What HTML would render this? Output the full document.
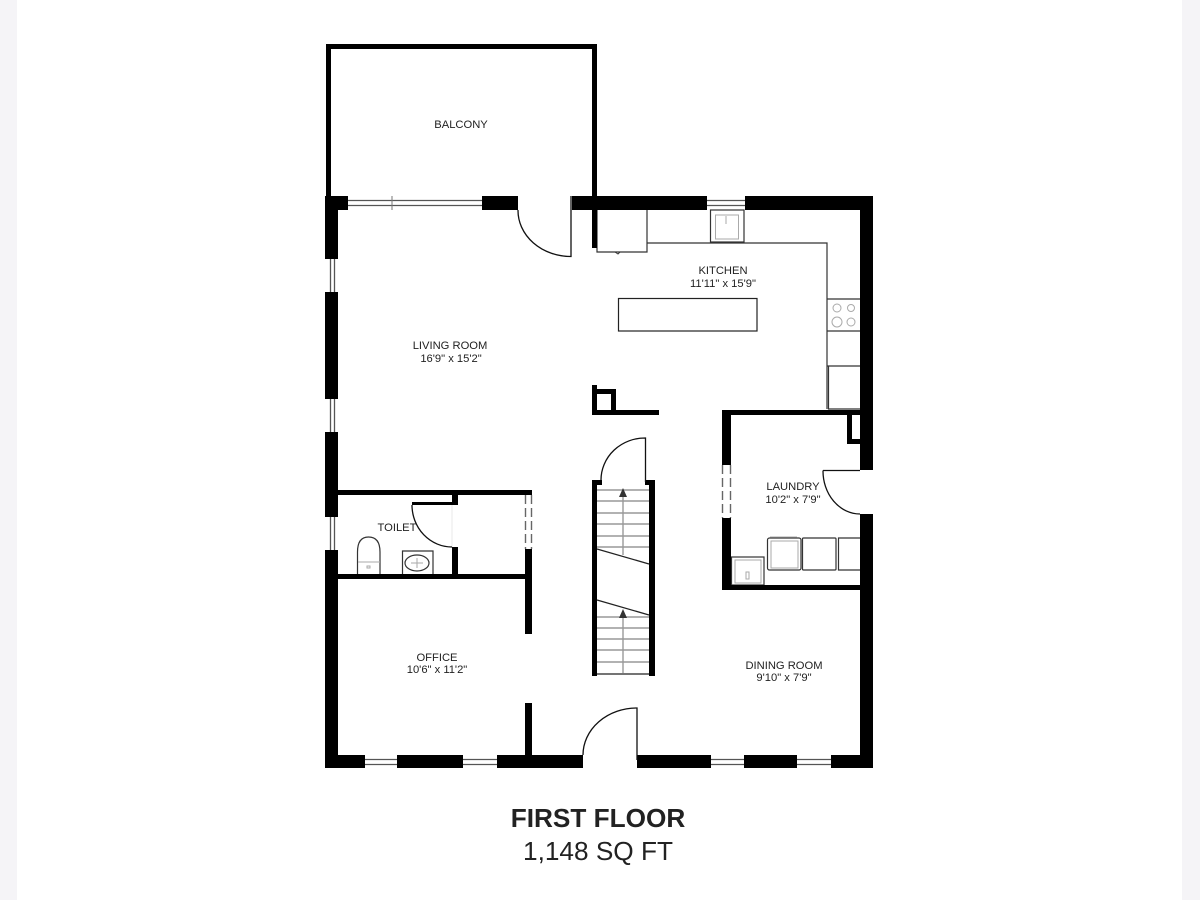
<!DOCTYPE html>
<html>
<head>
<meta charset="utf-8">
<style>
html,body{margin:0;padding:0;background:#fff;}
svg{display:block;}
text{font-family:"Liberation Sans",sans-serif;fill:#222;text-anchor:middle;}
.l{font-size:11.2px;}
.d{font-size:11.2px;}
</style>
</head>
<body>
<svg width="1200" height="900" viewBox="0 0 1200 900" xmlns="http://www.w3.org/2000/svg">
<rect width="1200" height="900" fill="#fff"/>
<rect x="0" y="0" width="17" height="900" fill="#f5f4f7"/>
<rect x="1182" y="0" width="18" height="900" fill="#f5f4f7"/>

<!-- thin fixtures -->
<g fill="none" stroke="#333" stroke-width="1.2">
  <path d="M597 210V252H647V210"/>
  <path d="M647 243H827V409"/>
  <rect x="710.500" y="210" width="33.500" height="32"/>
  <rect x="618.500" y="298.500" width="138.500" height="32.500" stroke="#222"/>
  <path d="M827 299H860M827 331H860M827 366H860"/>
  <path d="M828.500 366V409H860"/>
  <rect x="731.500" y="557" width="32.500" height="28"/>
  <rect x="767.500" y="538" width="33.500" height="32" rx="2"/>
  <rect x="802.500" y="538" width="33.500" height="32" rx="1"/>
  <path d="M860 538H838.500V570H860"/>
  <path d="M357.500 574V552Q357.500 537 368.500 537Q380 537 380 552V574"/>
  <path d="M402.500 574V551H433V574"/>
  <ellipse cx="417" cy="563" rx="12" ry="8"/>
  <path d="M615 252L618 254L620 252" stroke-width="1"/>
</g>
<g fill="none" stroke="#aaa" stroke-width="1">
  <rect x="715.500" y="215" width="23" height="24"/>
  <rect x="771" y="541" width="27" height="27"/>
  <rect x="735" y="560" width="26" height="23"/>
  <path d="M358 562H380M411 563H423"/>
  <circle cx="837" cy="308" r="4"/>
  <circle cx="851" cy="308" r="3.500"/>
  <circle cx="837" cy="322" r="5"/>
  <circle cx="851" cy="322" r="4"/>
  <path d="M726 216V224M417 558V568"/>
  <path d="M452 505V547" stroke="#e8e8e8"/>
  <path d="M770 537H797"/>
  <rect x="367" y="566" width="3" height="2"/>
  <rect x="746" y="572" width="3" height="7"/>
</g>

<!-- Stairs treads -->
<g stroke="#999" stroke-width="1.400" fill="none">
  <path d="M597 490H649M597 501H649M597 513H649M597 524H649M597 536H649M597 547H649"/>
  <path d="M597 617H649M597 628H649M597 639H649M597 650H649M597 662H649"/>
  <path d="M623 492V555M623 612V673"/>
</g>
<path d="M597 674H649M597 549L649 564M597 600L649 615" stroke="#222" stroke-width="1.300" fill="none"/>
<path d="M623 488L627 497H619ZM623 609L627 618H619Z" fill="#333"/>

<!-- windows -->
<g stroke="#555" stroke-width="1.300" fill="none">
  <path d="M348 200.500H482M348 205.500H482M707 200.500H745M707 205.500H745"/>
  <path d="M330.500 259V292M334.500 259V292M330.500 399V432M334.500 399V432M330.500 517V550M334.500 517V550"/>
  <path d="M365 759.500H397M365 764.500H397M463 759.500H497M463 764.500H497M711 759.500H744M711 764.500H744M797 759.500H831M797 764.500H831"/>
  <path d="M392 196V210" stroke="#777" stroke-width="1"/>
</g>

<!-- dashed windows -->
<g stroke="#666" stroke-width="1.400" fill="none">
  <path d="M525.500 495V549M531.500 495V549" stroke-dasharray="9 4"/>
  <path d="M722.500 465V518M730.500 465V518" stroke-dasharray="9 4"/>
</g>

<!-- walls -->
<g fill="#000">
  <!-- balcony -->
  <rect x="326" y="44" width="271" height="5"/>
  <rect x="326" y="44" width="5" height="153"/>
  <rect x="592" y="44" width="5" height="204"/>
  <!-- top -->
  <rect x="325" y="196" width="23" height="14"/>
  <rect x="482" y="196" width="36" height="14"/>
  <rect x="572" y="196" width="135" height="14"/>
  <rect x="745" y="196" width="128" height="14"/>
  <!-- left -->
  <rect x="325" y="196" width="13" height="63"/>
  <rect x="325" y="292" width="13" height="107"/>
  <rect x="325" y="432" width="13" height="85"/>
  <rect x="325" y="550" width="13" height="218"/>
  <!-- right -->
  <rect x="860" y="196" width="13" height="274"/>
  <rect x="860" y="514" width="13" height="254"/>
  <!-- bottom -->
  <rect x="325" y="755" width="40" height="13"/>
  <rect x="397" y="755" width="66" height="13"/>
  <rect x="497" y="755" width="86" height="13"/>
  <rect x="637" y="755" width="74" height="13"/>
  <rect x="744" y="755" width="53" height="13"/>
  <rect x="831" y="755" width="42" height="13"/>
  <!-- office/toilet -->
  <rect x="525" y="703" width="7" height="52"/>
  <rect x="525" y="549" width="7" height="85"/>
  <rect x="338" y="490" width="194" height="5"/>
  <rect x="338" y="574" width="187" height="5"/>
  <rect x="452" y="490" width="6" height="15"/>
  <rect x="412" y="502" width="46" height="3"/>
  <rect x="452" y="547" width="6" height="27"/>
  <!-- pillar -->
  <rect x="592" y="385" width="5" height="30"/>
  <rect x="592" y="389" width="24" height="5"/>
  <rect x="611" y="389" width="5" height="24"/>
  <rect x="592" y="410" width="67" height="5"/>
  <!-- laundry -->
  <rect x="722" y="410" width="9" height="55"/>
  <rect x="722" y="518" width="9" height="72"/>
  <rect x="722" y="410" width="138" height="5"/>
  <rect x="722" y="585" width="138" height="5"/>
  <rect x="847" y="415" width="5" height="29"/>
  <rect x="847" y="439" width="13" height="5"/>
  <!-- stairs -->
  <rect x="592" y="480" width="5" height="196"/>
  <rect x="649" y="480" width="6" height="196"/>
  <rect x="592" y="480" width="10" height="5"/>
  <rect x="645" y="480" width="10" height="5"/>
</g>

<!-- doors -->
<g fill="none" stroke="#111" stroke-width="1.300">
  <path d="M518 210A53 46 0 0 0 571 256.500V196"/>
  <path d="M583 755A54 47 0 0 1 637 708V760"/>
  <path d="M601 480A44 42 0 0 1 645.500 438V482"/>
  <path d="M412 505A40 42 0 0 0 452 547"/>
  <path d="M823 470.500H860M823 470.500A37 43 0 0 0 860 514"/>
</g>

<!-- labels -->
<text class="l" x="461" y="128">BALCONY</text>
<text class="l" x="450" y="349">LIVING ROOM</text>
<text class="d" x="451" y="362">16'9" x 15'2"</text>
<text class="l" x="723" y="274">KITCHEN</text>
<text class="d" x="723" y="287">11'11" x 15'9"</text>
<text class="l" x="793" y="490">LAUNDRY</text>
<text class="d" x="793" y="503">10'2" x 7'9"</text>
<text class="l" x="397" y="531">TOILET</text>
<text class="l" x="437" y="661">OFFICE</text>
<text class="d" x="437" y="673">10'6" x 11'2"</text>
<text class="l" x="784" y="669">DINING ROOM</text>
<text class="d" x="784" y="681">9'10" x 7'9"</text>

<text x="598" y="827" font-size="26.200" font-weight="bold" style="fill:#222">FIRST FLOOR</text>
<text x="598" y="860" font-size="26.200" style="fill:#222">1,148 SQ FT</text>
</svg>
</body>
</html>
